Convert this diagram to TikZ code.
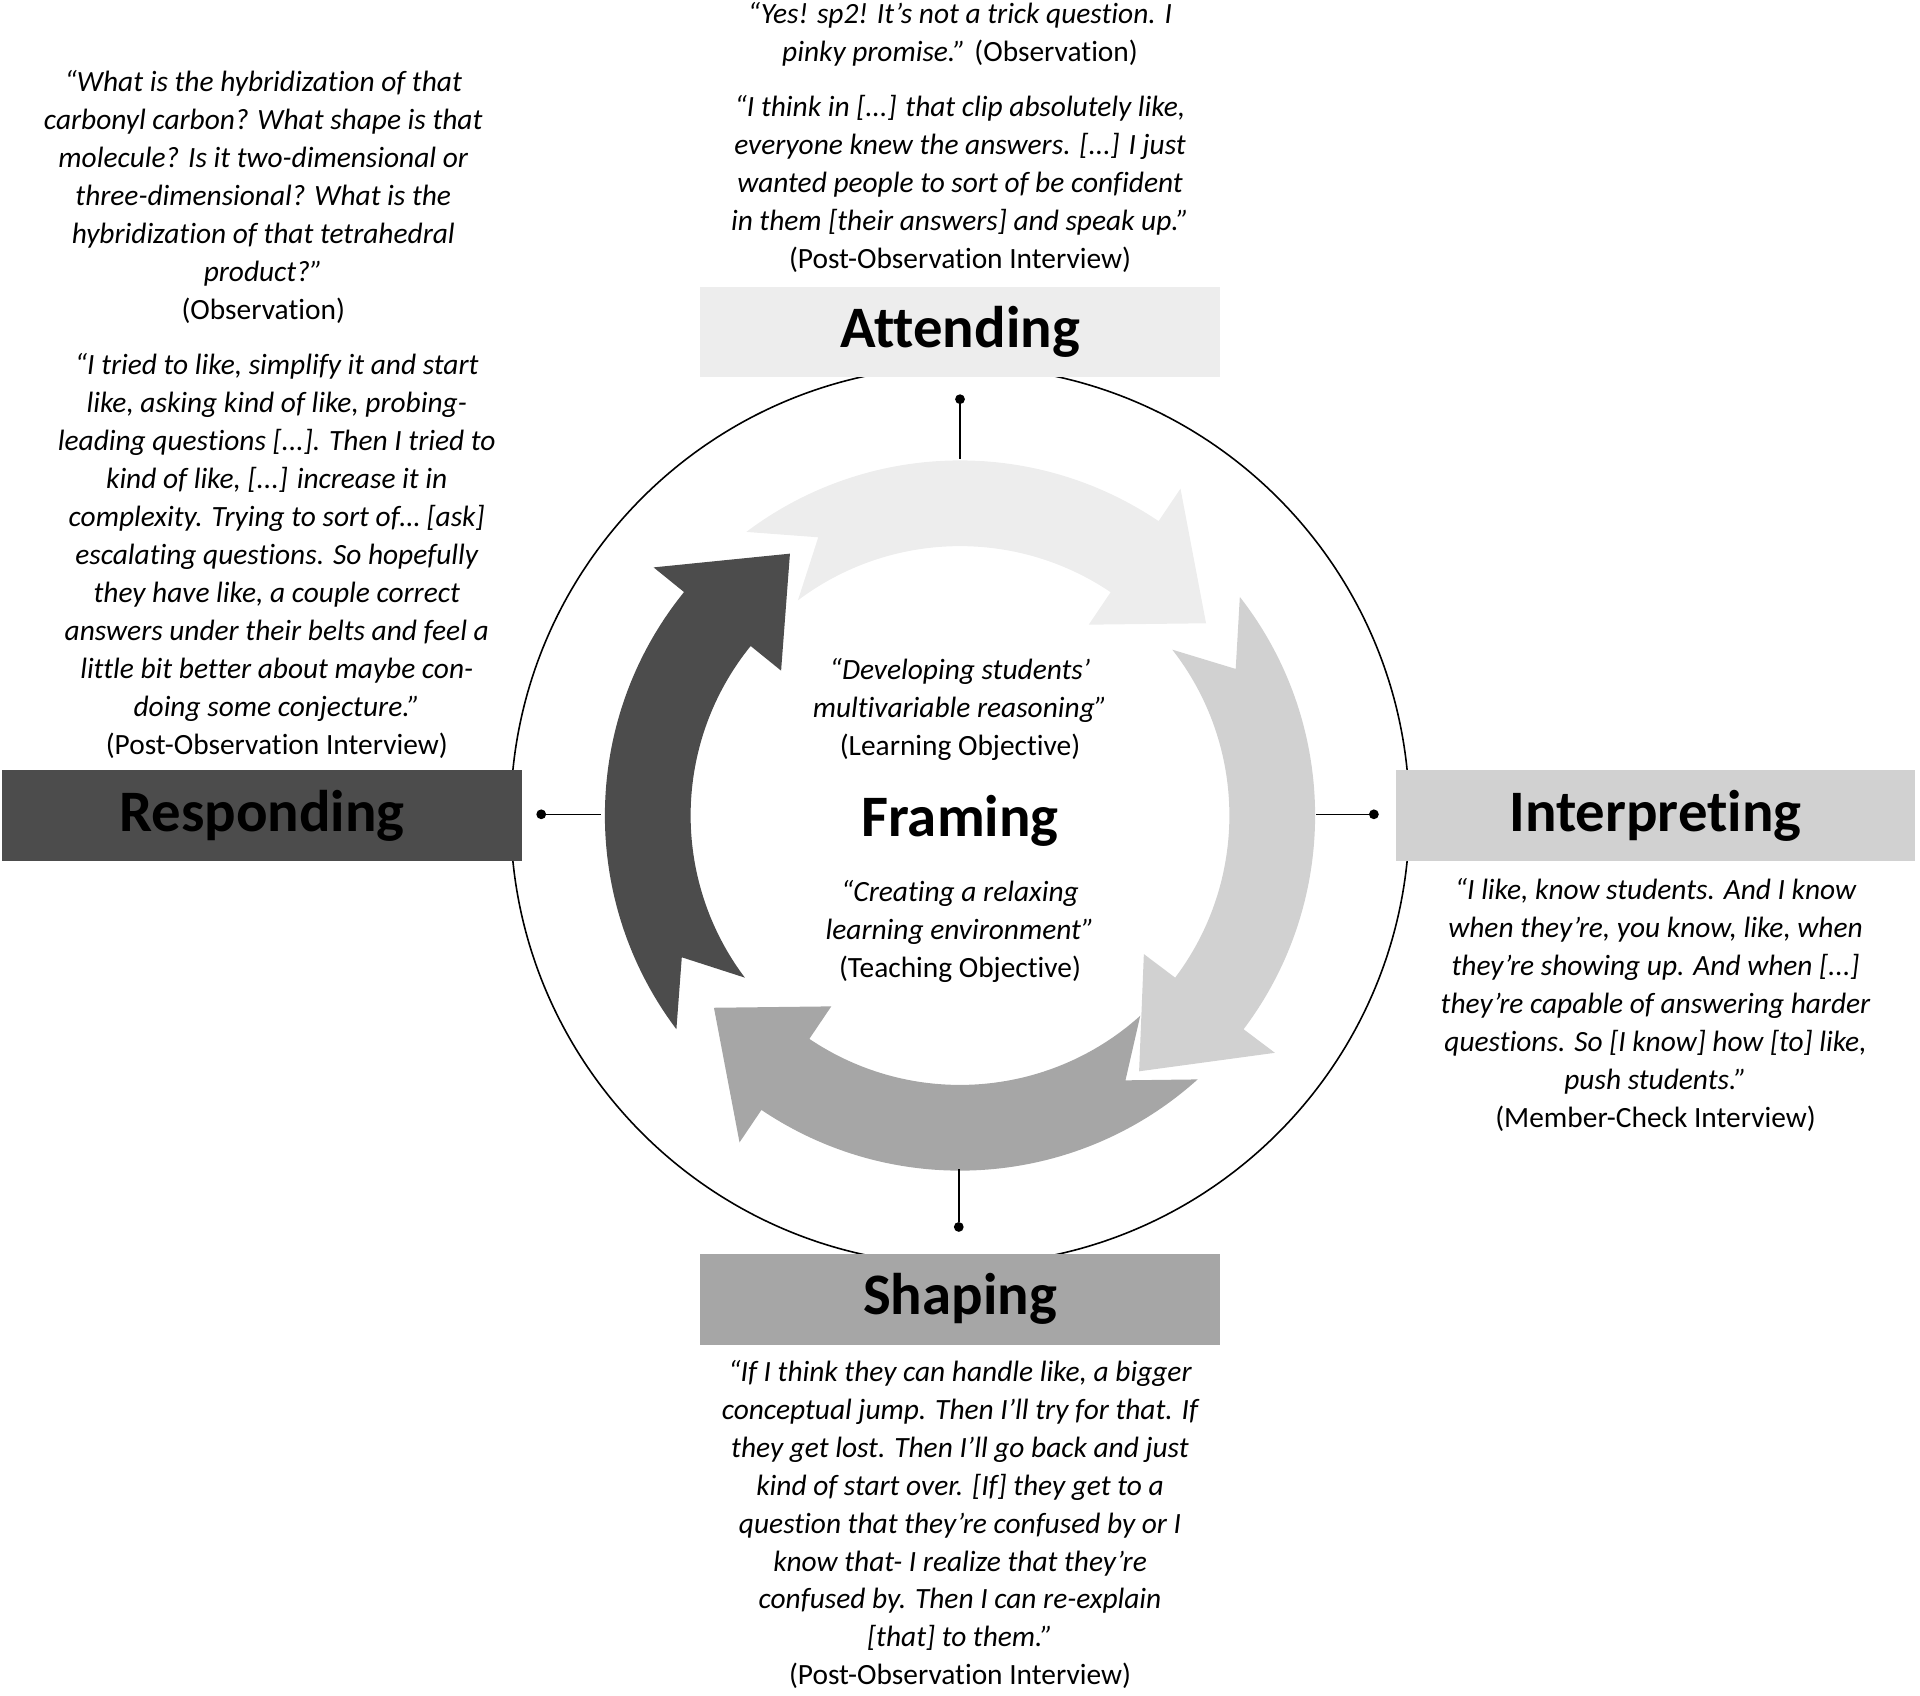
\documentclass[tikz,border=0pt]{standalone}
\usepackage{fontspec}
\setmainfont[Ligatures=NoCommon]{Carlito}
\begin{document}
\begin{tikzpicture}[x=1pt,y=-1pt,
  quote/.style={align=center,font=\fontsize{24}{31}\selectfont\itshape,inner sep=0pt},
  head/.style={font=\fontsize{48}{50}\selectfont\bfseries,inner sep=0pt,minimum width=424pt,minimum height=74pt},
  tick/.style={line width=1.3pt},
  dotn/.style={circle,fill=black,inner sep=0pt,minimum size=8pt}]
\definecolor{cA}{gray}{0.93}
\definecolor{cI}{gray}{0.82}
\definecolor{cS}{gray}{0.65}
\definecolor{cR}{gray}{0.30}
\useasboundingbox (0,0) rectangle (1568,1385);
\coordinate (c) at (784,666);
\draw[line width=1.3pt] (c) circle[radius=367];
% ring arrows
\begin{scope}[shift={(784,666)},yscale=-1]
\newcommand{\ringarrow}[3]{% start, end, colour
  \fill[#3] (#1:290) arc[start angle=#1,end angle=#2+18,radius=290] -- (#2+18:322) -- (#2:255) -- (#2+18:188) -- (#2+18:220) arc[start angle=#2+18,end angle=#1,radius=220] -- (#1-10:255) -- cycle;}
\ringarrow{127}{38}{cA}
\ringarrow{38}{-55}{cI}
\ringarrow{-48}{-142}{cS}
\ringarrow{217}{123}{cR}
\end{scope}
% boxes
\node[head,fill=cA] (att) at (784,271) {Attending};
\node[head,fill=cI] (int) at (1352,666) {Interpreting};
\node[head,fill=cS] (sha) at (784,1061) {Shaping};
\node[head,fill=cR] (res) at (214,666) {Responding};
% ticks
\node[dotn] (dt) at (784,326) {}; \coordinate (et) at (784,375);
\node[dotn] (dl) at (442,665) {}; \coordinate (el) at (491,665);
\node[dotn] (dr) at (1122,665) {}; \coordinate (er) at (1075,665);
\node[dotn] (db) at (783,1002) {}; \coordinate (eb) at (783,955);
\draw[tick] (dt) -- (et); \draw[tick] (dl) -- (el);
\draw[tick] (dr) -- (er); \draw[tick] (db) -- (eb);
% center
\node[font=\fontsize{48}{50}\selectfont\bfseries] (fr) at (784,670) {Framing};
\node[quote] (lo) at (784,579) {“Developing students’\\multivariable reasoning”\\\upshape(Learning Objective)};
\node[quote] (to) at (784,761) {“Creating a relaxing\\learning environment”\\\upshape(Teaching Objective)};
% quotes
\node[quote] (q1) at (784,28) {“Yes! sp2! It’s not a trick question. I\\pinky promise.” \upshape(Observation)};
\node[quote] (q2) at (784,150) {“I think in [...] that clip absolutely like,\\everyone knew the answers. [...] I just\\wanted people to sort of be confident\\in them [their answers] and speak up.”\\\upshape(Post-Observation Interview)};
\node[quote] (q3) at (215,161) {“What is the hybridization of that\\carbonyl carbon? What shape is that\\molecule? Is it two-dimensional or\\three-dimensional? What is the\\hybridization of that tetrahedral\\product?”\\\upshape(Observation)};
\node[quote] (q4) at (226,454) {“I tried to like, simplify it and start\\like, asking kind of like, probing-\\leading questions [...]. Then I tried to\\kind of like, [...] increase it in\\complexity. Trying to sort of… [ask]\\escalating questions. So hopefully\\they have like, a couple correct\\answers under their belts and feel a\\little bit better about maybe con-\\doing some conjecture.”\\\upshape(Post-Observation Interview)};
\node[quote] (q5) at (1352,821) {“I like, know students. And I know\\when they’re, you know, like, when\\they’re showing up. And when [...]\\they're capable of answering harder\\questions. So [I know] how [to] like,\\push students.”\\\upshape(Member-Check Interview)};
\node[quote] (q6) at (784,1245) {“If I think they can handle like, a bigger\\conceptual jump. Then I'll try for that. If\\they get lost. Then I'll go back and just\\kind of start over. [If] they get to a\\question that they're confused by or I\\know that- I realize that they're\\confused by. Then I can re-explain\\{[}that{]} to them.”\\\upshape(Post-Observation Interview)};
\end{tikzpicture}
\end{document}
